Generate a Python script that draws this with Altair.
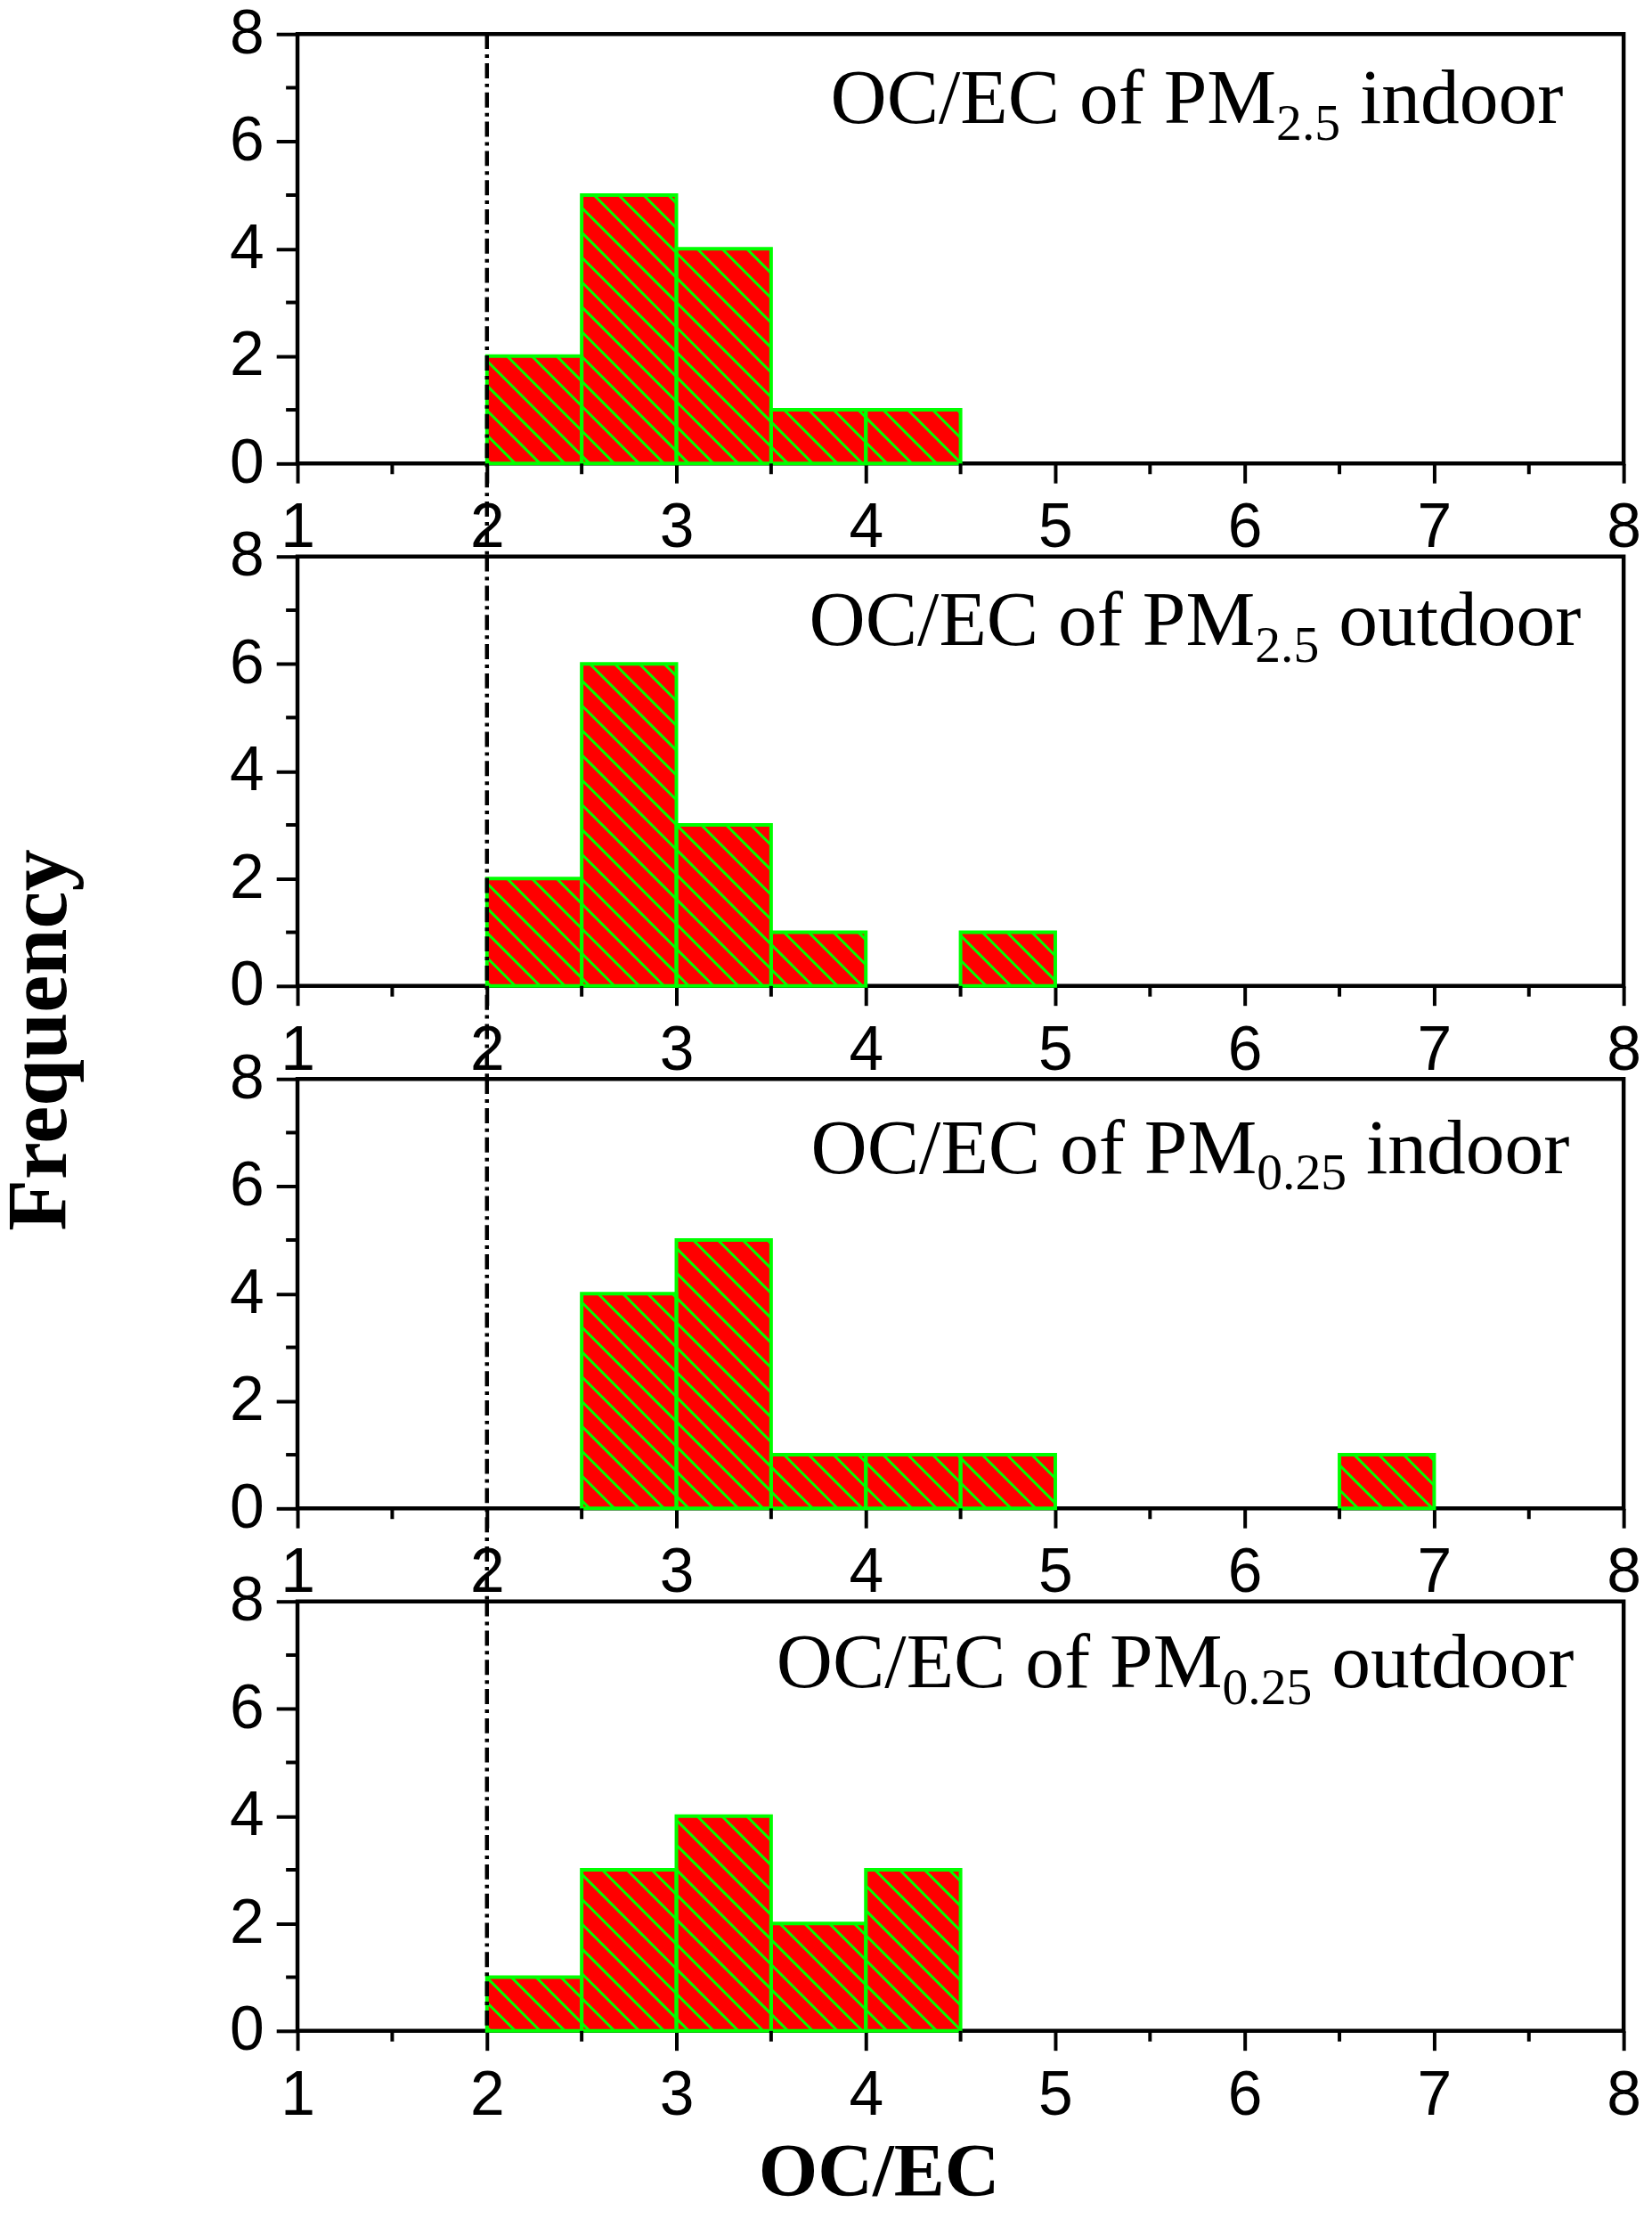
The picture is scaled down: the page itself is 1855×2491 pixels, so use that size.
import math
import altair as alt
import pandas as pd

# ---------------- data ----------------
bin_left = [2.0, 2.5, 3.0, 3.5, 4.0, 4.5, 5.0, 5.5, 6.0, 6.5]
bin_width = 0.5
counts_pm25_indoor = [2, 5, 4, 1, 1, 0, 0, 0, 0, 0]
counts_pm25_outdoor = [2, 6, 3, 1, 0, 1, 0, 0, 0, 0]
counts_pm025_indoor = [0, 4, 5, 1, 1, 1, 0, 0, 0, 1]
counts_pm025_outdoor = [1, 3, 4, 2, 3, 0, 0, 0, 0, 0]

label_main = ["OC/EC of PM", "OC/EC of PM", "OC/EC of PM", "OC/EC of PM"]
label_sub = ["2.5", "2.5", "0.25", "0.25"]
label_suffix = ["indoor", "outdoor", "indoor", "outdoor"]

x_ticks = [1, 2, 3, 4, 5, 6, 7, 8]
x_minor = [1.5, 2.5, 3.5, 4.5, 5.5, 6.5, 7.5]
y_ticks = [0, 2, 4, 6, 8]
y_minor = [1, 3, 5, 7]
threshold = [2.0]
x_title = "OC/EC"
y_title = "Frequency"

# ---------------- layout / style ----------------
W, H = 1498, 485
SP = 105
XDOM = [1, 8]
YDOM = [0, 8]
PX_X = W / (XDOM[1] - XDOM[0])
PX_Y = H / (YDOM[1] - YDOM[0])
RED = "#FF0000"
GREEN = "#00FF00"
SERIF = "Liberation Serif"
SANS = "Liberation Sans"
F_MAIN = 88
F_SUB = 58

xs = alt.Scale(domain=XDOM, nice=False, zero=False)
ys = alt.Scale(domain=YDOM, nice=False, zero=False)

XAXIS = alt.Axis(values=x_ticks, title=None, format="d",
                 labelFont=SANS, labelFontSize=70, labelColor="black",
                 labelPadding=17, labelFlush=False, labelOverlap=False,
                 labelBaseline="top",
                 tickSize=22, tickWidth=4, tickColor="black",
                 domain=False, grid=False)
YAXIS = alt.Axis(values=y_ticks, title=None, format="d",
                 labelFont=SANS, labelFontSize=70, labelColor="black",
                 labelPadding=14, labelFlush=False, labelOverlap=False,
                 tickSize=24, tickWidth=4, tickColor="black",
                 domain=False, grid=False)


def X(field):
    return alt.X(field, scale=xs, axis=XAXIS)


def Y(field):
    return alt.Y(field, scale=ys, axis=YAXIS)


def hatch_table(df):
    """45-degree (in pixels) hatch segments clipped to each bar."""
    k = PX_Y / PX_X
    step = 28 / PX_X
    phase = 2.0 + 4 / PX_X
    rows = []
    for x0, h in zip(df["x0"], df["n"]):
        x1 = x0 + bin_width
        n = math.floor((x0 - phase) / step)
        c = phase + n * step
        while c < x1 + k * h + step:
            ylo = max(0.0, (c - x1) / k)
            yhi = min(float(h), (c - x0) / k)
            if yhi - ylo > 1e-6:
                rows.append({"hx": c - k * ylo, "hy": ylo,
                             "hx2": c - k * yhi, "hy2": yhi})
            c += step
    return pd.DataFrame(rows)


def sub_em(s):
    return sum(0.25 if ch == "." else 0.5 for ch in s)


def panel(i, counts, text_x, text_y, gap_below, extra=None):
    df = pd.DataFrame({"x0": bin_left,
                       "x1": [b + bin_width for b in bin_left],
                       "n": counts})
    df = df[df["n"] > 0].reset_index(drop=True)
    df["base"] = 0

    bars = alt.Chart(df).mark_rect(color=RED, strokeWidth=0).encode(
        x=X("x0:Q"), x2="x1:Q", y=Y("n:Q"), y2="base:Q")
    hatch = alt.Chart(hatch_table(df)).mark_rule(
        color=GREEN, strokeWidth=3).encode(
        x=X("hx:Q"), x2="hx2:Q", y=Y("hy:Q"), y2="hy2:Q")
    outline = alt.Chart(df).mark_rect(
        fillOpacity=0, stroke=GREEN, strokeWidth=4).encode(
        x=X("x0:Q"), x2="x1:Q", y=Y("n:Q"), y2="base:Q")
    thr = alt.Chart(pd.DataFrame({"t": threshold})).mark_rule(
        color="black", strokeWidth=4.5, strokeDash=[17, 6, 4, 6]).encode(
        x=X("t:Q"), y=alt.value(0), y2=alt.value(H + gap_below))
    xminor = alt.Chart(pd.DataFrame({"m": x_minor})).mark_rule(
        color="black", strokeWidth=4).encode(
        x=X("m:Q"), y=alt.value(H), y2=alt.value(H + 12))
    yminor = alt.Chart(pd.DataFrame({"m": y_minor})).mark_rule(
        color="black", strokeWidth=4).encode(
        y=Y("m:Q"), x=alt.value(-13), x2=alt.value(0))

    sub_x = text_x + 5.723 * F_MAIN
    suf_x = sub_x + sub_em(label_sub[i]) * F_SUB + 0.25 * F_MAIN
    t_main = alt.Chart(pd.DataFrame({"t": [label_main[i]]})).mark_text(
        font=SERIF, fontSize=F_MAIN, align="left", baseline="alphabetic",
        color="black").encode(x=alt.value(text_x), y=alt.value(text_y), text="t:N")
    t_sub = alt.Chart(pd.DataFrame({"t": [label_sub[i]]})).mark_text(
        font=SERIF, fontSize=F_SUB, align="left", baseline="alphabetic",
        color="black").encode(x=alt.value(sub_x), y=alt.value(text_y + 19), text="t:N")
    t_suf = alt.Chart(pd.DataFrame({"t": [label_suffix[i]]})).mark_text(
        font=SERIF, fontSize=F_MAIN, align="left", baseline="alphabetic",
        color="black").encode(x=alt.value(suf_x), y=alt.value(text_y), text="t:N")

    layers = [bars, hatch, outline, thr, xminor, yminor, t_main, t_sub, t_suf]
    if extra is not None:
        layers += extra
    return alt.layer(*layers).properties(width=W, height=H)


freq = alt.Chart(pd.DataFrame({"t": [y_title]})).mark_text(
    font=SERIF, fontSize=95, fontWeight="bold", angle=270, align="center",
    baseline="alphabetic", color="black").encode(
    x=alt.value(-262), y=alt.value(546), text="t:N")
xtitle = alt.Chart(pd.DataFrame({"t": [x_title]})).mark_text(
    font=SERIF, fontSize=86, fontWeight="bold", align="center",
    baseline="alphabetic", color="black").encode(
    x=alt.value(657), y=alt.value(H + 186), text="t:N")

p1 = panel(0, counts_pm25_indoor, 602, 100, SP)
p2 = panel(1, counts_pm25_outdoor, 578, 100, SP, extra=[freq])
p3 = panel(2, counts_pm025_indoor, 580, 106, SP)
p4 = panel(3, counts_pm025_outdoor, 541, 97, 0, extra=[xtitle])

chart = alt.vconcat(p1, p2, p3, p4, spacing=SP, bounds="flush").properties(
    padding={"left": -13, "top": -15, "right": 2, "bottom": -13}
).configure_view(stroke="black", strokeWidth=4.5)

chart.save("out.html", embed_options={"renderer": "svg", "actions": False})
